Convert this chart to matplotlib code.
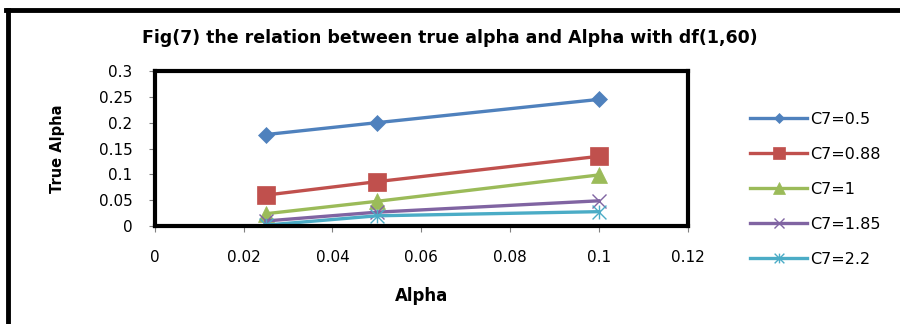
import matplotlib
matplotlib.use("Agg")
import matplotlib.pyplot as plt
from matplotlib.path import Path
from matplotlib.lines import Line2D

alpha = [0.025, 0.05, 0.1]
labels = ["C7=0.5", "C7=0.88", "C7=1", "C7=1.85", "C7=2.2"]
c05 = [0.177, 0.200, 0.245]
c088 = [0.060, 0.086, 0.135]
c1 = [0.024, 0.048, 0.099]
c185 = [0.010, 0.027, 0.049]
c22 = [0.002, 0.020, 0.028]
series = [c05, c088, c1, c185, c22]

colors = ["#4F81BD", "#C0504D", "#9BBB59", "#8064A2", "#4BACC6"]
star = Path([(-1, -1), (1, 1), (-1, 1), (1, -1), (0, -1), (0, 1)],
            [Path.MOVETO, Path.LINETO, Path.MOVETO, Path.LINETO, Path.MOVETO, Path.LINETO])
markers = ["D", "s", "^", "x", star]
msizes = [8, 13, 12, 10, 10]

fig = plt.figure(figsize=(9, 3.24), dpi=100)
ax = fig.add_axes([0.172, 0.302, 0.592, 0.479])

for ys, lab, col, mk, ms in zip(series, labels, colors, markers, msizes):
    ax.plot(alpha, ys, color=col, lw=2.4, marker=mk, markersize=ms,
            markeredgewidth=1.0 if mk in ("x",) or mk is star else 0.5,
            markeredgecolor=col, markerfacecolor=col, label=lab)

ax.set_xlim(0, 0.12)
ax.set_ylim(0, 0.3)
ax.set_xticks([0, 0.02, 0.04, 0.06, 0.08, 0.1, 0.12])
ax.set_xticklabels(["0", "0.02", "0.04", "0.06", "0.08", "0.1", "0.12"])
ax.set_yticks([0, 0.05, 0.1, 0.15, 0.2, 0.25, 0.3])
ax.set_yticklabels(["0", "0.05", "0.1", "0.15", "0.2", "0.25", "0.3"])
ax.tick_params(direction="out", length=4, width=0.8, color="#808080",
               labelsize=11, labelcolor="black")
ax.tick_params(axis="x", pad=13)
ax.tick_params(axis="y", pad=12)
for s in ax.spines.values():
    s.set_linewidth(3)
    s.set_color("black")

ax.set_xlabel("Alpha", fontsize=12, fontweight="bold", labelpad=16)
ax.set_ylabel("True Alpha", fontsize=10.5, fontweight="bold",
              family=["Liberation Sans Narrow", "DejaVu Sans"], labelpad=24)

fig.text(0.5, 0.883, "Fig(7) the relation between true alpha and Alpha with df(1,60)",
         ha="center", va="center", fontsize=12.5, fontweight="bold",
         family=["Liberation Sans Narrow", "DejaVu Sans"])

leg = ax.legend(loc="upper left", bbox_to_anchor=(1.09, 0.83), frameon=False,
                fontsize=11.5, handlelength=3.6, labelspacing=1.25, handletextpad=0.2,
                markerscale=0.7)

# outer frame: left and top edges
fig.add_artist(Line2D([0.009, 0.009], [0, 0.969], color="black", lw=3.5,
                      transform=fig.transFigure))
fig.add_artist(Line2D([0.007, 1.0], [0.969, 0.969], color="black", lw=3.5,
                      transform=fig.transFigure))

fig.savefig("out.png", dpi=100)
